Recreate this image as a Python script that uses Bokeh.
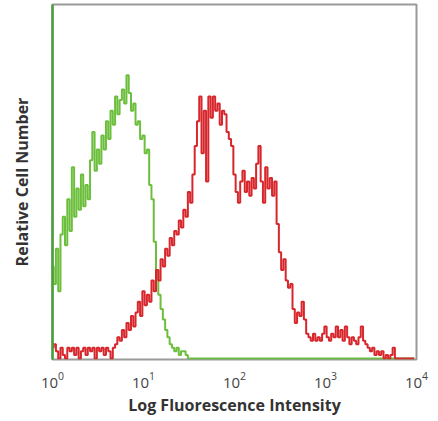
import numpy as np
from bokeh.plotting import figure
from bokeh.models import Range1d, FixedTicker
from bokeh.embed import file_html
from bokeh.resources import INLINE

# Bins: 160 channels across four log decades (10^0 .. 10^4)
n_bins = 160
decades = 4
x_ticks = [1, 10, 100, 1000, 10000]

green_counts = [26, 21, 31, 19, 35, 40, 32, 45, 36, 54,
                40, 48, 42, 52, 43, 49, 45, 56, 64, 53,
                59, 55, 63, 59, 67, 62, 70, 66, 74, 69,
                73, 76, 72, 80, 75, 70, 72, 66, 67, 62,
                63, 58, 59, 49, 45, 33, 25, 18, 14, 11,
                8, 6, 4, 3, 2, 3, 1, 2, 2, 1] + [0] * 100

red_counts = [3, 4, 2, 0, 3, 1, 0, 3, 2, 3, 1, 3, 0, 2, 3, 1, 3, 2, 3, 0,
              3, 2, 3, 1, 3, 2, 0, 3, 4, 6,
              5, 8, 6, 10, 8, 12, 9, 13, 16, 12,
              19, 15, 18, 16, 22, 19, 25, 22, 28, 26,
              31, 29, 34, 32, 36, 35, 39, 37, 42, 40,
              47, 44, 52, 60, 67, 74, 58, 70, 50, 74,
              68, 74, 70, 72, 66, 70, 69, 64, 62, 60,
              52, 47, 44, 50, 53, 47, 50, 46, 51, 48,
              55, 60, 50, 44, 54, 48, 51, 46, 50, 38,
              30, 25, 28, 22, 20, 21, 14, 10, 13, 12,
              16, 11, 7, 6, 5, 7, 5, 6, 5, 7,
              9, 6, 5, 7, 6, 9, 6, 8, 5, 9,
              6, 4, 6, 5, 4, 6, 9, 5, 4, 3,
              2, 3, 1, 2, 1, 2, 0, 1, 0, 1,
              3, 0, 0, 0, 0, 0, 0, 0, 0, 0]

x_bins = 10 ** (np.arange(n_bins) * decades / n_bins)

p = figure(width=430, height=418, x_axis_type="log",
           x_range=Range1d(1, 10000), y_range=Range1d(-0.3, 100),
           output_backend="svg", toolbar_location=None,
           min_border_left=52, min_border_right=14,
           min_border_top=4, min_border_bottom=10)

p.grid.visible = False
p.outline_line_color = "#9a9a9a"
p.outline_line_width = 2
p.background_fill_color = "white"

p.step(x_bins, green_counts, mode="center", line_color="#6cbf3c", line_width=2)
p.step(x_bins, red_counts, mode="center", line_color="#d7262c", line_width=2)

xa = p.xaxis[0]
xa.ticker = FixedTicker(ticks=x_ticks)
xa.axis_line_color = None
xa.major_tick_line_color = None
xa.minor_tick_line_color = None
xa.major_label_standoff = 6
xa.major_label_text_font = "Open Sans"
xa.major_label_text_font_size = "15px"
xa.major_label_text_color = "#444444"
xa.axis_label = "Log Fluorescence Intensity"
xa.axis_label_text_font = "Open Sans"
xa.axis_label_text_font_style = "bold"
xa.axis_label_text_font_size = "16px"
xa.axis_label_text_color = "#333333"
xa.axis_label_standoff = 3

ya = p.yaxis[0]
ya.ticker = FixedTicker(ticks=[])
ya.axis_line_color = "#4a9e3c"
ya.axis_line_width = 2.5
ya.major_tick_line_color = None
ya.minor_tick_line_color = None
ya.major_label_text_font_size = "0px"
ya.axis_label = "Relative Cell Number"
ya.axis_label_text_font = "Open Sans"
ya.axis_label_text_font_style = "bold"
ya.axis_label_text_font_size = "16px"
ya.axis_label_text_color = "#333333"
ya.axis_label_standoff = 20

open("out.html", "w").write(file_html(p, INLINE))
